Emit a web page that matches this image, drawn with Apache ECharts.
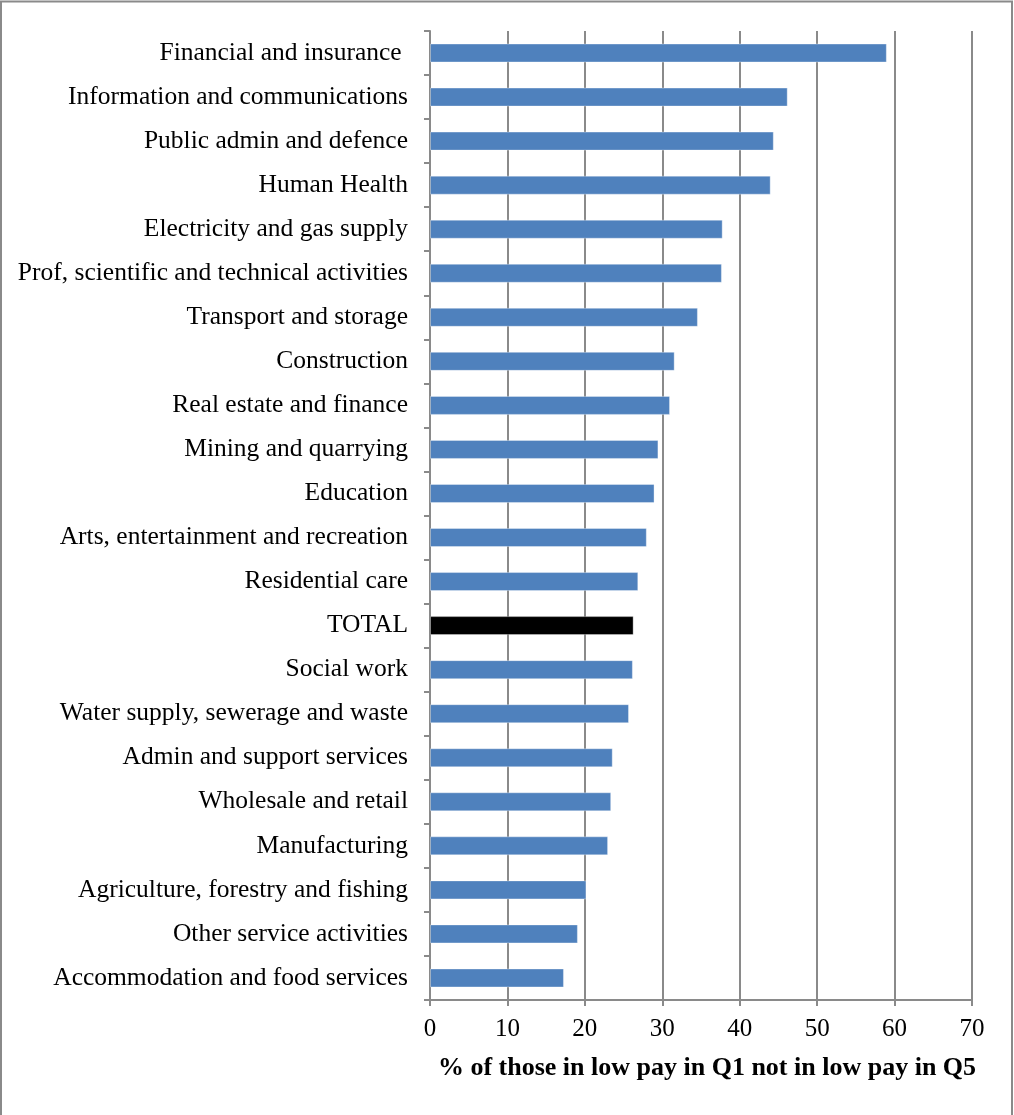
<!DOCTYPE html>
<html>
<head>
<meta charset="utf-8">
<script src="https://cdn.jsdelivr.net/npm/echarts@6/dist/echarts.min.js"></script>
<style>
  html, body { margin: 0; padding: 0; background: #fff; }
  #chart { width: 1014px; height: 1115px; }
</style>
</head>
<body>
<div id="chart"></div>
<script>
// Sectors, top to bottom
const sectors = [
  'Financial and insurance ',
  'Information and communications',
  'Public admin and defence',
  'Human Health',
  'Electricity and gas supply',
  'Prof, scientific and technical activities',
  'Transport and storage',
  'Construction',
  'Real estate and finance',
  'Mining and quarrying',
  'Education',
  'Arts, entertainment and recreation',
  'Residential care',
  'TOTAL',
  'Social work',
  'Water supply, sewerage and waste',
  'Admin and support services',
  'Wholesale and retail',
  'Manufacturing',
  'Agriculture, forestry and fishing',
  'Other service activities',
  'Accommodation and food services'
];

// % of those in low pay in Q1 not in low pay in Q5
const shareLeftLowPay = [
  59.0, 46.2, 44.4, 44.0, 37.8, 37.7, 34.6, 31.6, 31.0, 29.5, 29.0,
  28.0, 26.9, 26.3, 26.2, 25.7, 23.6, 23.4, 23.0, 20.2, 19.1, 17.3
];

const xTicks = { min: 0, max: 70, interval: 10 };
const xAxisTitle = '% of those in low pay in Q1 not in low pay in Q5';

const BLUE = '#4f81bd';
const GREY = '#8a8a8a';
const FONT = '"Liberation Serif", "DejaVu Serif", serif';

const chart = echarts.init(document.getElementById('chart'), null, { renderer: 'canvas' });

chart.setOption({
  backgroundColor: '#ffffff',
  animation: false,
  graphic: [{
    type: 'rect',
    shape: { x: 1, y: 1.5, width: 1011, height: 1200 },
    style: { fill: 'none', stroke: '#8a8a8a', lineWidth: 2 },
    silent: true
  }],
  grid: { left: 430, right: 42, top: 31, bottom: 115, containLabel: false },
  xAxis: {
    type: 'value',
    min: xTicks.min,
    max: xTicks.max,
    interval: xTicks.interval,
    axisLine: { show: true, lineStyle: { color: GREY, width: 2 } },
    axisTick: { show: true, length: 6, lineStyle: { color: GREY, width: 2 } },
    splitLine: { show: true, lineStyle: { color: GREY, width: 2 } },
    axisLabel: { color: '#000', fontFamily: FONT, fontSize: 25, margin: 17 },
    name: xAxisTitle,
    nameLocation: 'middle',
    nameGap: 55,
    nameTextStyle: {
      color: '#000', fontFamily: FONT, fontSize: 26, fontWeight: 'bold',
      padding: [0, 0, 0, 12]
    }
  },
  yAxis: {
    type: 'category',
    inverse: true,
    data: sectors,
    axisLine: { show: true, lineStyle: { color: GREY, width: 2 } },
    axisTick: { show: true, length: 6, lineStyle: { color: GREY, width: 2 } },
    axisLabel: { color: '#000', fontFamily: FONT, fontSize: 25.5, margin: 22 },
    splitLine: { show: false }
  },
  series: [{
    type: 'bar',
    barWidth: 19,
    data: shareLeftLowPay.map((v, i) => ({
      value: v,
      itemStyle: { color: sectors[i] === 'TOTAL' ? '#000000' : BLUE }
    })),
    itemStyle: { borderColor: 'rgba(255,255,255,0.35)', borderWidth: 1 }
  }]
});
</script>
</body>
</html>
